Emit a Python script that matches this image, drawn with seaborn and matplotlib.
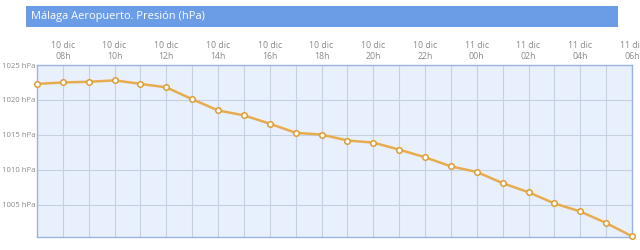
import matplotlib
matplotlib.use("Agg")
import matplotlib.pyplot as plt
import matplotlib.patches as patches
import seaborn as sns
import pandas as pd

hours = ["07h", "08h", "09h", "10h", "11h", "12h", "13h", "14h", "15h", "16h", "17h", "18h",
         "19h", "20h", "21h", "22h", "23h", "00h", "01h", "02h", "03h", "04h", "05h", "06h"]
days = ["10 dic"] * 17 + ["11 dic"] * 7
pressure = [1022.3, 1022.5, 1022.6, 1022.8, 1022.3, 1021.8, 1020.1, 1018.5, 1017.8, 1016.6,
            1015.3, 1015.05, 1014.2, 1013.9, 1012.9, 1011.8, 1010.5, 1009.7, 1008.1, 1006.8,
            1005.2, 1004.05, 1002.4, 1000.5]
y_ticks = [1005, 1010, 1015, 1020, 1025]
title = "Málaga Aeropuerto. Presión (hPa)"

df = pd.DataFrame({"idx": list(range(len(hours))), "p": pressure})

sns.set_theme(style="white")
plt.rcParams["font.family"] = ["Open Sans", "DejaVu Sans"]

fig = plt.figure(figsize=(6.4, 2.5), dpi=100)
ax = fig.add_axes([37 / 640, 1 - 237 / 250, 595 / 640, 172 / 250])
ax.set_facecolor("#e8f0fd")

sns.lineplot(data=df, x="idx", y="p", ax=ax, color="#e8ac50", linewidth=1.8,
             marker="o", markersize=4, markerfacecolor="white",
             markeredgecolor="#dd9f35", markeredgewidth=1.1, zorder=5, clip_on=False)

ax.set_xlim(0, len(hours) - 1)
ax.set_ylim(1000.4, 1025)
ax.set_xticks(list(range(len(hours))))
labels = [f"{d}\n{h}" if i % 2 == 1 else "" for i, (d, h) in enumerate(zip(days, hours))]
ax.set_xticklabels(labels)
ax.xaxis.tick_top()
ax.set_yticks(y_ticks)
ax.set_yticklabels([f"{v} hPa" for v in y_ticks])
ax.tick_params(axis="both", length=0, colors="#8a8a8a")
ax.tick_params(axis="x", labelsize=6.3, pad=3)
ax.tick_params(axis="y", labelsize=5.6, pad=1)
ax.grid(True, color="#c5d0e3", linewidth=0.8)
ax.set_xlabel("")
ax.set_ylabel("")
for s in ax.spines.values():
    s.set_color("#9ab5e0")
    s.set_linewidth(1.0)

fig.patches.append(patches.Rectangle((26 / 640, 1 - 27 / 250), 592 / 640, 21 / 250,
                                     transform=fig.transFigure, facecolor="#6b9de6",
                                     edgecolor="none"))
fig.text(31 / 640, 1 - 16.5 / 250, title, color="white", fontsize=7.9, va="center", ha="left")

fig.savefig("out.png", dpi=100)
